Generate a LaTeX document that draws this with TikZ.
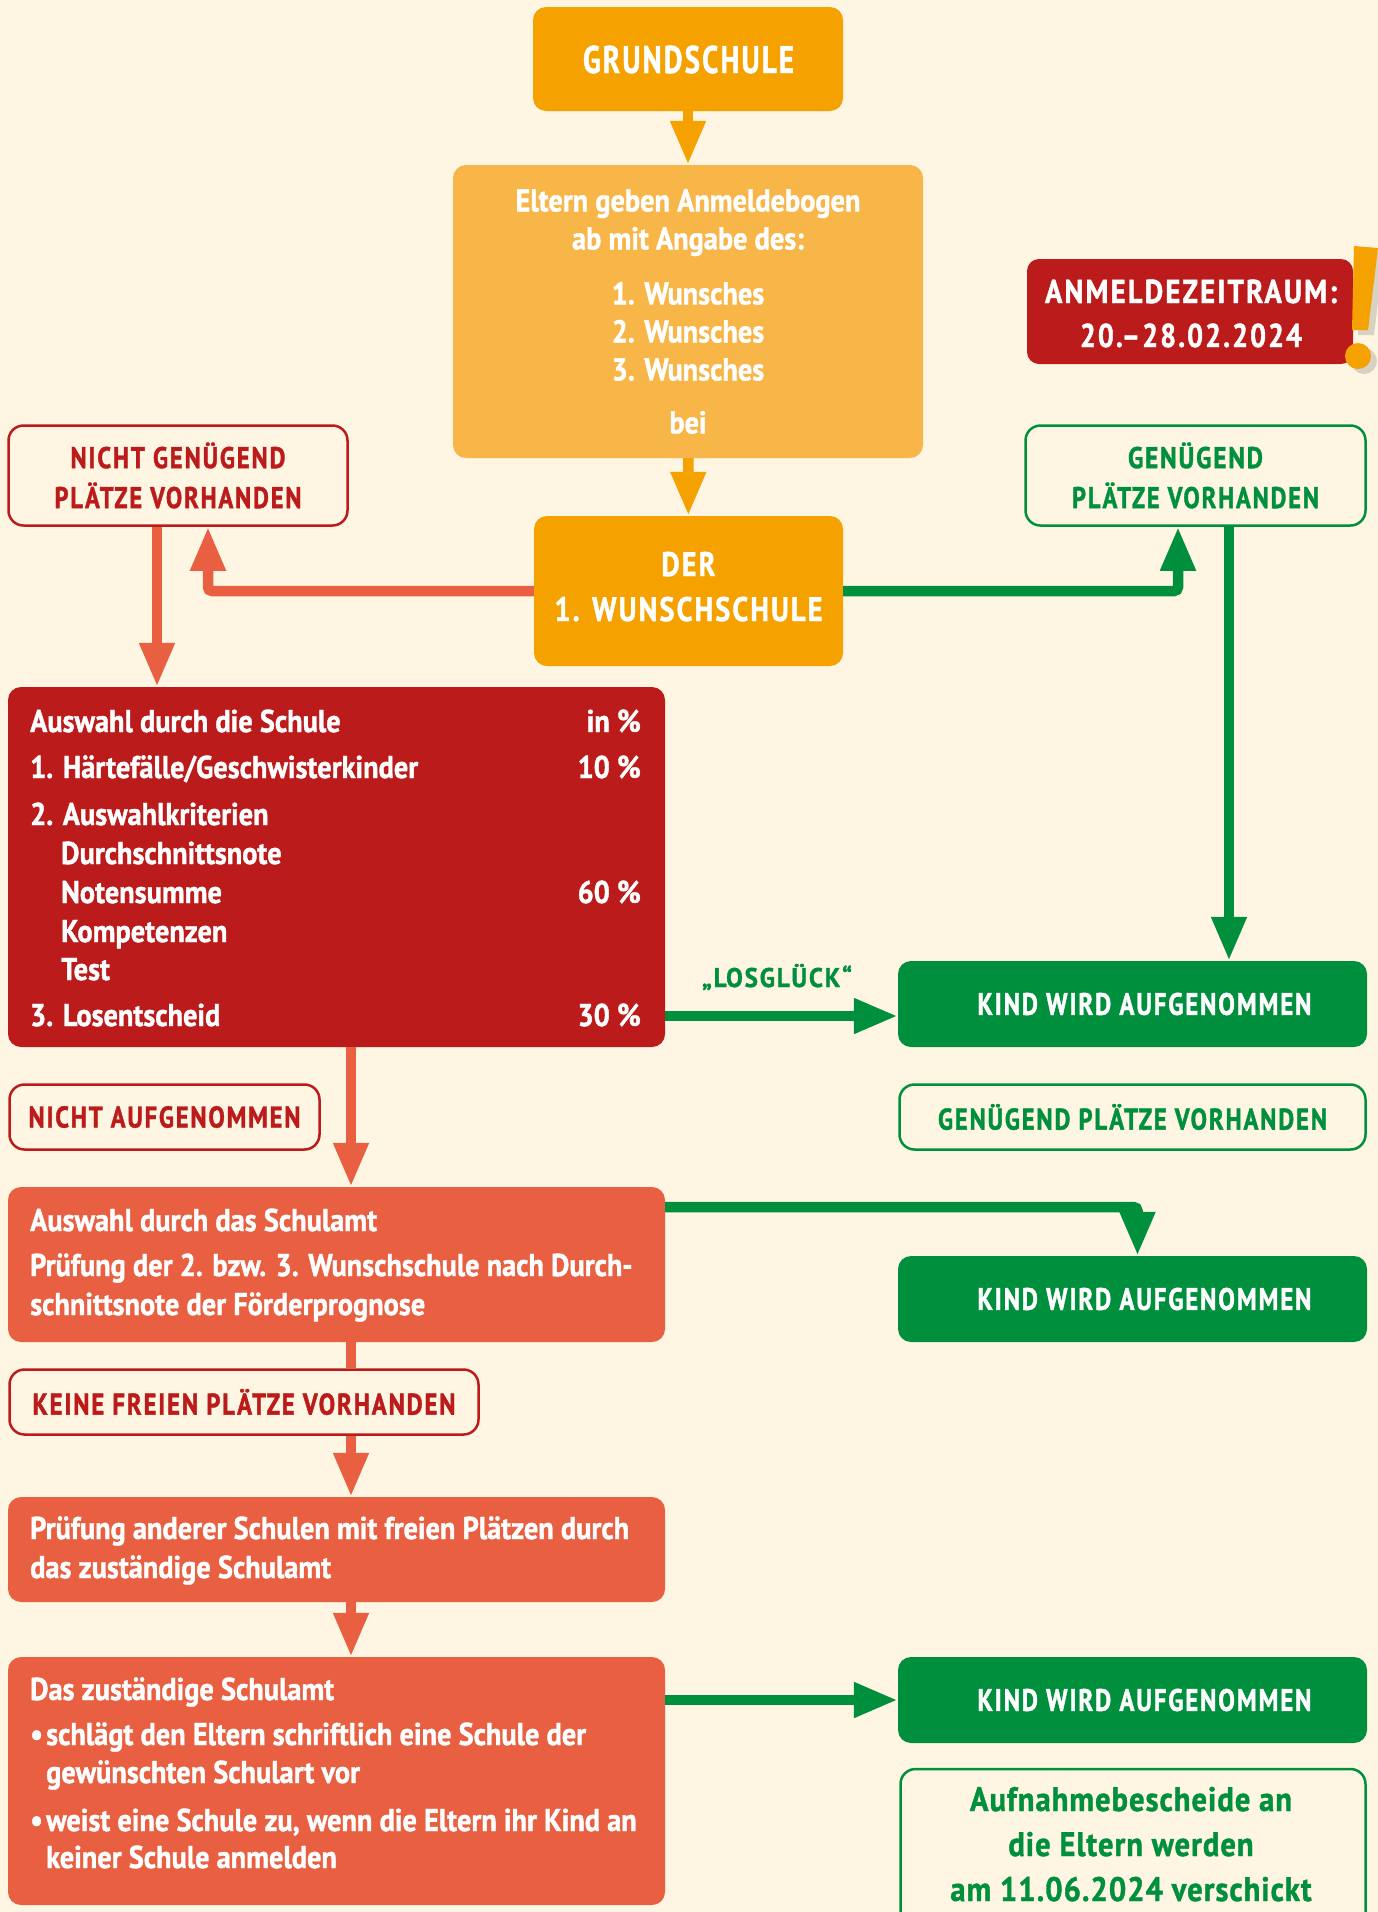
\documentclass[tikz,border=0pt]{standalone}
\usepackage{graphicx}
\usepackage{fontspec}
\setmainfont{PT Sans}[FakeStretch=0.9, BoldFeatures={FakeBold=1.2}]
\newfontfamily\capsfont{PT Sans}[FakeStretch=0.8, LetterSpace=6, BoldFeatures={FakeBold=1.2}]
\usetikzlibrary{arrows.meta,shadows}

\definecolor{bg}{HTML}{FEF6E2}
\definecolor{orangeA}{HTML}{F5A100}
\definecolor{orangeB}{HTML}{F9B648}
\definecolor{darkred}{HTML}{BB1B1B}
\definecolor{coral}{HTML}{E86041}
\definecolor{grn}{HTML}{00903D}

\newcommand\sizeA{\fontsize{31.5}{40}\selectfont}
\newcommand\fitw[2]{\resizebox{#1}{\height}{\capsfont #2}}

\tikzset{
  every node/.style={font=\bfseries\sizeA},
  fillbox/.style={rounded corners=13pt, inner sep=0pt, text=white, align=center},
  linebox/.style={rounded corners=15pt, inner sep=0pt, line width=2.5pt, fill=bg, align=center},
  txt/.style={anchor=base west, inner sep=0pt, text=white},
  pct/.style={anchor=base east, inner sep=0pt, text=white},
  ctr/.style={anchor=base, inner sep=0pt, text=white},
  arr/.style={line width=10.5pt, -{Triangle[width=33pt,length=44pt]}},
  elbow/.style={arr, rounded corners=4pt},
}

\begin{document}
\begin{tikzpicture}[x=1pt,y=-1pt]
\useasboundingbox (0,0) rectangle (1378,1912);
\clip (0,0) rectangle (1378,1912);
\fill[bg] (0,0) rectangle (1378,1912);

\node[fillbox, fill=orangeA, minimum width=310pt, minimum height=104pt] (grund) at (688,59) {};
\node[ctr, font=\bfseries\fontsize{38.5}{40}\selectfont] (grundt) at (688.5,73) {\fitw{211pt}{GRUNDSCHULE}};
\node[fillbox, fill=orangeB, minimum width=470pt, minimum height=293pt, font=\bfseries\fontsize{31.5}{38}\selectfont] (bogen) at (688,311.5)
  {Eltern geben Anmeldebogen\\ab mit Angabe des:\\[17pt]1. Wunsches\\2. Wunsches\\3. Wunsches\\[15pt]bei};
\node[fillbox, fill=orangeA, minimum width=309pt, minimum height=150pt] (wunsch) at (688.5,591) {};
\node[ctr, font=\bfseries\fontsize{34}{40}\selectfont] (wunsch1) at (688.5,576) {\fitw{54pt}{DER}};
\node[ctr, font=\bfseries\fontsize{34}{40}\selectfont] (wunsch2) at (688.5,621) {\fitw{268pt}{1. WUNSCHSCHULE}};

\node[fillbox, fill=darkred, rounded corners=12pt, minimum width=326pt, minimum height=105pt] (zeit) at (1190,311.5) {};
\node[ctr, font=\bfseries\fontsize{33}{40}\selectfont] (zeit1) at (1191,303) {\fitw{292pt}{ANMELDEZEITRAUM:}};
\node[ctr, font=\bfseries\fontsize{33}{40}\selectfont] (zeit2) at (1191,347) {\fitw{222pt}{20.–28.02.2024}};
\fill[orangeA, drop shadow={shadow xshift=6pt, shadow yshift=-5pt, opacity=.3}] (1354,246) -- (1378,248) -- (1368,330) -- (1352,330) -- cycle;
\fill[orangeA, drop shadow={shadow xshift=6pt, shadow yshift=-5pt, opacity=.3}] (1358,356) circle[radius=13pt];

\node[linebox, draw=darkred, text=darkred, minimum width=339pt, minimum height=100pt, font=\bfseries\fontsize{30}{40}\selectfont] (nicht) at (178,475.5) {\fitw{215pt}{NICHT GENÜGEND}\\\fitw{247pt}{PLÄTZE VORHANDEN}};
\node[linebox, draw=grn, text=grn, minimum width=340pt, minimum height=100pt, font=\bfseries\fontsize{30}{40}\selectfont] (genug) at (1195.5,475.5) {\fitw{135pt}{GENÜGEND}\\\fitw{247pt}{PLÄTZE VORHANDEN}};

\node[fillbox, fill=darkred, minimum width=657pt, minimum height=360pt] (schule) at (336.5,867) {};
\foreach \y/\x/\t [count=\i] in {732/30/Auswahl durch die Schule, 778/30/{1. Härtefälle/Geschwisterkinder},
    825/30/2. Auswahlkriterien, 864/61/Durchschnittsnote, 903/61/Notensumme, 942/61/Kompetenzen,
    980/61/Test, 1026/30/3. Losentscheid}
  \node[txt] (sl\i) at (\x,\y) {\t};
\foreach \y/\t [count=\i] in {732/in \%, 778/10 \%, 903/60 \%, 1026/30 \%}
  \node[pct] (sp\i) at (641,\y) {\t};

\node[fillbox, fill=grn, minimum width=469pt, minimum height=86pt, font=\bfseries\fontsize{31}{40}\selectfont] (kind1) at (1132.5,1004) {\hspace*{24pt}\fitw{334pt}{KIND WIRD AUFGENOMMEN}};
\node[ctr, text=grn, font=\bfseries\fontsize{27}{30}\selectfont] (los) at (777,987) {\fitw{150pt}{„LOSGLÜCK“}};

\node[linebox, draw=darkred, text=darkred, minimum width=310pt, minimum height=65pt, font=\bfseries\fontsize{30}{40}\selectfont] (nichtauf) at (164.5,1117) {\fitw{272pt}{NICHT AUFGENOMMEN}};
\node[linebox, draw=grn, text=grn, minimum width=466pt, minimum height=65pt, font=\bfseries\fontsize{30}{40}\selectfont] (genug2) at (1132.5,1117) {\fitw{389pt}{GENÜGEND PLÄTZE VORHANDEN}};

\node[fillbox, fill=coral, minimum width=657pt, minimum height=155pt] (amt) at (336.5,1264.5) {};
\foreach \y/\t [count=\i] in {1231/Auswahl durch das Schulamt, 1276/Prüfung der 2. bzw. 3. Wunschschule nach Durch-,
    1315/schnittsnote der Förderprognose}
  \node[txt] (al\i) at (30,\y) {\t};
\node[fillbox, fill=grn, minimum width=469pt, minimum height=86pt, font=\bfseries\fontsize{31}{40}\selectfont] (kind2) at (1132.5,1299) {\hspace*{24pt}\fitw{334pt}{KIND WIRD AUFGENOMMEN}};

\node[linebox, draw=darkred, text=darkred, minimum width=469pt, minimum height=65pt, font=\bfseries\fontsize{30}{40}\selectfont] (keine) at (244,1402) {\fitw{423pt}{KEINE FREIEN PLÄTZE VORHANDEN}};

\node[fillbox, fill=coral, minimum width=657pt, minimum height=105pt] (pruef) at (336.5,1549.5) {};
\node[txt] (pl1) at (30,1539) {Prüfung anderer Schulen mit freien Plätzen durch};
\node[txt] (pl2) at (30,1578) {das zuständige Schulamt};

\node[fillbox, fill=coral, minimum width=657pt, minimum height=248pt] (zust) at (336.5,1781) {};
\foreach \y/\x/\t [count=\i] in {1700/30/Das zuständige Schulamt, 1745/30/\makebox[16pt][l]{•}schlägt den Eltern schriftlich eine Schule der,
    1783/46/gewünschten Schulart vor, 1831/30/\makebox[16pt][l]{•}weist eine Schule zu{,} wenn die Eltern ihr Kind an,
    1868/46/keiner Schule anmelden}
  \node[txt] (zl\i) at (\x,\y) {\t};
\node[fillbox, fill=grn, minimum width=469pt, minimum height=86pt, font=\bfseries\fontsize{31}{40}\selectfont] (kind3) at (1132.5,1700) {\hspace*{24pt}\fitw{334pt}{KIND WIRD AUFGENOMMEN}};
\node[linebox, draw=grn, minimum width=465pt, minimum height=180pt] (bescheid) at (1133,1859) {};
\foreach \y/\t [count=\i] in {1811/Aufnahmebescheide an, 1856/die Eltern werden, 1901/am 11.06.2024 verschickt}
  \node[ctr, text=grn, font=\bfseries\fontsize{34}{40}\selectfont] (bl\i) at (1131,\y) {\addfontfeature{LetterSpace=3}\t};

\coordinate (losrow) at (0,1016);
\coordinate (amtrow) at (0,1207);

\draw[arr, orangeA] (grund) -- (bogen);
\draw[arr, orangeA] (bogen) -- (wunsch);
\draw[elbow, coral] (wunsch.west) -| ([xshift=30pt]nicht.south);
\draw[elbow, grn] (wunsch.east) -| ([xshift=-17.5pt]genug.south);
\draw[arr, coral] ([xshift=-21pt]nicht.south) -- ([xshift=-21pt]nicht.south |- schule.north);
\draw[arr, grn] ([xshift=33.5pt]genug.south) -- ([xshift=33.5pt]genug.south |- kind1.north);
\draw[arr, grn] (schule.east |- losrow) -- (kind1.west |- losrow);
\draw[arr, coral] ([xshift=14.5pt]schule.south) -- ([xshift=14.5pt]amt.north);
\draw[elbow, grn] (amt.east |- amtrow) -| ([xshift=5pt]kind2.north);
\draw[line width=10.5pt, coral] ([xshift=14.5pt]amt.south) -- ([xshift=14.5pt]amt.south |- keine.north);
\draw[arr, coral] ([xshift=14.5pt]amt.south |- keine.south) -- ([xshift=14.5pt]pruef.north);
\draw[arr, coral] ([xshift=14.5pt]pruef.south) -- ([xshift=14.5pt]zust.north);
\draw[arr, grn] (zust.east |- kind3.west) -- (kind3.west);

\end{tikzpicture}
\end{document}
